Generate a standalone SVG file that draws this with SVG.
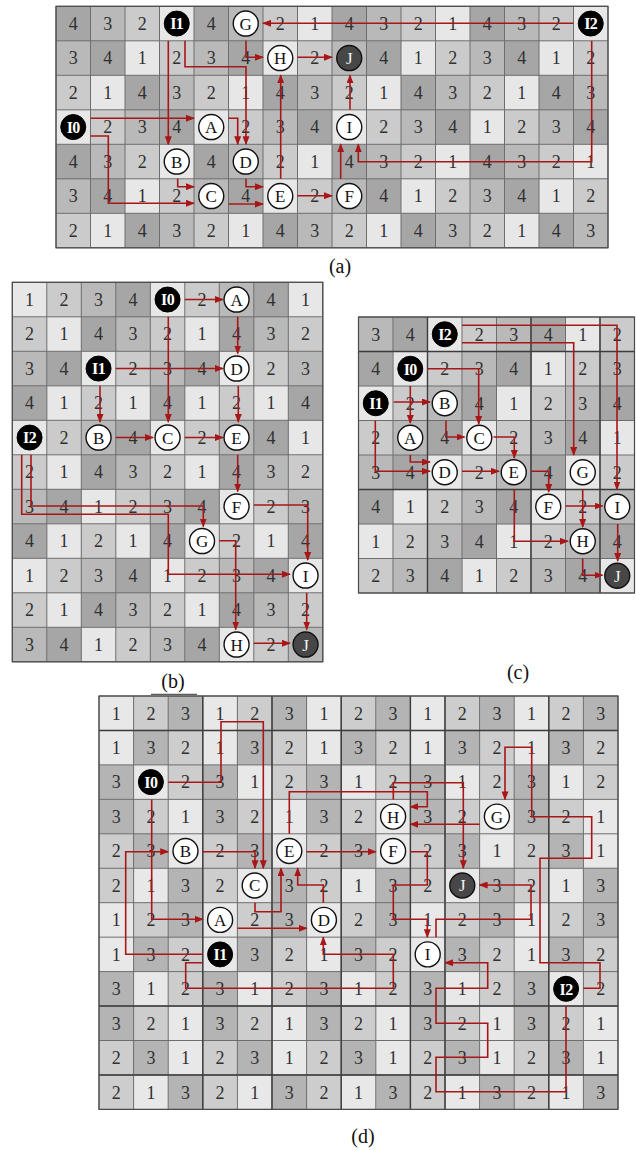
<svg xmlns="http://www.w3.org/2000/svg" width="636" height="1150" viewBox="0 0 636 1150">
<style>
.k1{fill:#e7e7e7}.k2{fill:#cbcbcb}.k3{fill:#b9b9b9}.k4{fill:#a6a6a6}
.m1{fill:#e8e8e8}.m2{fill:#cdcdcd}.m3{fill:#b4b4b4}
.gl{fill:none;stroke:#6e6e6e;stroke-width:1}
.bl{fill:none;stroke:#3c3c3c;stroke-width:1.4}
.bd{fill:none;stroke:#4a4a4a;stroke-width:1.2}
.num text{font-family:"Liberation Serif","DejaVu Serif",serif;font-size:18px;text-anchor:middle;fill:#303030}
.nd circle{fill:#fff;stroke:#111;stroke-width:1.4}
.nd text,.st text,.en text{font-family:"Liberation Serif","DejaVu Serif",serif;font-size:17px;text-anchor:middle;fill:#111}
.st circle{fill:#000;stroke:#000;stroke-width:1}
.st text{fill:#fff;font-weight:bold;font-size:16px;letter-spacing:-0.5px}
.en circle{fill:#474747;stroke:#111;stroke-width:1.4}
.en text{fill:#f2f2f2}
.ar{fill:none;stroke:#a81717;stroke-width:1.6}
.lab{font-family:"Liberation Serif","DejaVu Serif",serif;font-size:20px;text-anchor:middle;fill:#111}
</style>
<defs>
<marker id="ah" viewBox="0 0 9 7" refX="8" refY="3.5" markerWidth="9" markerHeight="7" markerUnits="userSpaceOnUse" orient="auto"><path d="M0,0 L9,3.5 L0,7 z" fill="#a81717"/></marker>
<pattern id="pa" patternUnits="userSpaceOnUse" width="138" height="138">
<rect class="k4" x="0" y="0" width="35" height="35"/><rect class="k3" x="34.5" y="0" width="35" height="35"/><rect class="k2" x="69" y="0" width="35" height="35"/><rect class="k1" x="103.5" y="0" width="35" height="35"/>
<rect class="k3" x="0" y="34.5" width="35" height="35"/><rect class="k4" x="34.5" y="34.5" width="35" height="35"/><rect class="k1" x="69" y="34.5" width="35" height="35"/><rect class="k2" x="103.5" y="34.5" width="35" height="35"/>
<rect class="k2" x="0" y="69" width="35" height="35"/><rect class="k1" x="34.5" y="69" width="35" height="35"/><rect class="k4" x="69" y="69" width="35" height="35"/><rect class="k3" x="103.5" y="69" width="35" height="35"/>
<rect class="k1" x="0" y="103.5" width="35" height="35"/><rect class="k2" x="34.5" y="103.5" width="35" height="35"/><rect class="k3" x="69" y="103.5" width="35" height="35"/><rect class="k4" x="103.5" y="103.5" width="35" height="35"/>
</pattern>
<pattern id="pb" patternUnits="userSpaceOnUse" width="138" height="138">
<rect class="k1" x="0" y="0" width="35" height="35"/><rect class="k2" x="34.5" y="0" width="35" height="35"/><rect class="k3" x="69" y="0" width="35" height="35"/><rect class="k4" x="103.5" y="0" width="35" height="35"/>
<rect class="k2" x="0" y="34.5" width="35" height="35"/><rect class="k1" x="34.5" y="34.5" width="35" height="35"/><rect class="k4" x="69" y="34.5" width="35" height="35"/><rect class="k3" x="103.5" y="34.5" width="35" height="35"/>
<rect class="k3" x="0" y="69" width="35" height="35"/><rect class="k4" x="34.5" y="69" width="35" height="35"/><rect class="k1" x="69" y="69" width="35" height="35"/><rect class="k2" x="103.5" y="69" width="35" height="35"/>
<rect class="k4" x="0" y="103.5" width="35" height="35"/><rect class="k1" x="34.5" y="103.5" width="35" height="35"/><rect class="k2" x="69" y="103.5" width="35" height="35"/><rect class="k1" x="103.5" y="103.5" width="35" height="35"/>
</pattern>
<pattern id="pc" patternUnits="userSpaceOnUse" width="138" height="138">
<rect class="k3" x="0" y="0" width="35" height="35"/><rect class="k4" x="34.5" y="0" width="35" height="35"/><rect class="k1" x="69" y="0" width="35" height="35"/><rect class="k2" x="103.5" y="0" width="35" height="35"/>
<rect class="k4" x="0" y="34.5" width="35" height="35"/><rect class="k1" x="34.5" y="34.5" width="35" height="35"/><rect class="k2" x="69" y="34.5" width="35" height="35"/><rect class="k3" x="103.5" y="34.5" width="35" height="35"/>
<rect class="k1" x="0" y="69" width="35" height="35"/><rect class="k2" x="34.5" y="69" width="35" height="35"/><rect class="k3" x="69" y="69" width="35" height="35"/><rect class="k4" x="103.5" y="69" width="35" height="35"/>
<rect class="k2" x="0" y="103.5" width="35" height="35"/><rect class="k3" x="34.5" y="103.5" width="35" height="35"/><rect class="k4" x="69" y="103.5" width="35" height="35"/><rect class="k1" x="103.5" y="103.5" width="35" height="35"/>
</pattern>
<pattern id="pd" patternUnits="userSpaceOnUse" width="103.8" height="206.7">
<rect class="m1" x="0" y="0" width="35" height="35"/><rect class="m2" x="34.6" y="0" width="35" height="35"/><rect class="m3" x="69.2" y="0" width="35" height="35"/>
<rect class="m1" x="0" y="34.45" width="35" height="35"/><rect class="m3" x="34.6" y="34.45" width="35" height="35"/><rect class="m2" x="69.2" y="34.45" width="35" height="35"/>
<rect class="m3" x="0" y="68.9" width="35" height="35"/><rect class="m1" x="34.6" y="68.9" width="35" height="35"/><rect class="m2" x="69.2" y="68.9" width="35" height="35"/>
<rect class="m3" x="0" y="103.35" width="35" height="35"/><rect class="m2" x="34.6" y="103.35" width="35" height="35"/><rect class="m1" x="69.2" y="103.35" width="35" height="35"/>
<rect class="m2" x="0" y="137.8" width="35" height="35"/><rect class="m3" x="34.6" y="137.8" width="35" height="35"/><rect class="m1" x="69.2" y="137.8" width="35" height="35"/>
<rect class="m2" x="0" y="172.25" width="35" height="35"/><rect class="m1" x="34.6" y="172.25" width="35" height="35"/><rect class="m3" x="69.2" y="172.25" width="35" height="35"/>
</pattern>
</defs>
<rect width="636" height="1150" fill="#fff"/>

<g id="grid-a" transform="translate(56 6.3)">
<rect width="552" height="241.5" fill="url(#pa)"/>
<path class="gl" d="M0 0V241.5M34.5 0V241.5M69 0V241.5M103.5 0V241.5M138 0V241.5M172.5 0V241.5M207 0V241.5M241.5 0V241.5M276 0V241.5M310.5 0V241.5M345 0V241.5M379.5 0V241.5M414 0V241.5M448.5 0V241.5M483 0V241.5M517.5 0V241.5M552 0V241.5M0 0H552M0 34.5H552M0 69H552M0 103.5H552M0 138H552M0 172.5H552M0 207H552M0 241.5H552"/>
<rect class="bd" width="552" height="241.5"/>
<g class="num">
<text x="17.3" y="23.6">4</text><text x="51.8" y="23.6">3</text><text x="86.3" y="23.6">2</text><text x="155.3" y="23.6">4</text><text x="224.3" y="23.6">2</text><text x="258.8" y="23.6">1</text><text x="293.3" y="23.6">4</text><text x="327.8" y="23.6">3</text><text x="362.3" y="23.6">2</text><text x="396.8" y="23.6">1</text><text x="431.3" y="23.6">4</text><text x="465.8" y="23.6">3</text><text x="500.3" y="23.6">2</text>
<text x="17.3" y="58.1">3</text><text x="51.8" y="58.1">4</text><text x="86.3" y="58.1">1</text><text x="120.8" y="58.1">2</text><text x="155.3" y="58.1">3</text><text x="189.8" y="58.1">4</text><text x="258.8" y="58.1">2</text><text x="327.8" y="58.1">4</text><text x="362.3" y="58.1">1</text><text x="396.8" y="58.1">2</text><text x="431.3" y="58.1">3</text><text x="465.8" y="58.1">4</text><text x="500.3" y="58.1">1</text><text x="534.8" y="58.1">2</text>
<text x="17.3" y="92.6">2</text><text x="51.8" y="92.6">1</text><text x="86.3" y="92.6">4</text><text x="120.8" y="92.6">3</text><text x="155.3" y="92.6">2</text><text x="189.8" y="92.6">1</text><text x="224.3" y="92.6">4</text><text x="258.8" y="92.6">3</text><text x="293.3" y="92.6">2</text><text x="327.8" y="92.6">1</text><text x="362.3" y="92.6">4</text><text x="396.8" y="92.6">3</text><text x="431.3" y="92.6">2</text><text x="465.8" y="92.6">1</text><text x="500.3" y="92.6">4</text><text x="534.8" y="92.6">3</text>
<text x="51.8" y="127.1">2</text><text x="86.3" y="127.1">3</text><text x="120.8" y="127.1">4</text><text x="189.8" y="127.1">2</text><text x="224.3" y="127.1">3</text><text x="258.8" y="127.1">4</text><text x="327.8" y="127.1">2</text><text x="362.3" y="127.1">3</text><text x="396.8" y="127.1">4</text><text x="431.3" y="127.1">1</text><text x="465.8" y="127.1">2</text><text x="500.3" y="127.1">3</text><text x="534.8" y="127.1">4</text>
<text x="17.3" y="161.6">4</text><text x="51.8" y="161.6">3</text><text x="86.3" y="161.6">2</text><text x="155.3" y="161.6">4</text><text x="224.3" y="161.6">2</text><text x="258.8" y="161.6">1</text><text x="293.3" y="161.6">4</text><text x="327.8" y="161.6">3</text><text x="362.3" y="161.6">2</text><text x="396.8" y="161.6">1</text><text x="431.3" y="161.6">4</text><text x="465.8" y="161.6">3</text><text x="500.3" y="161.6">2</text><text x="534.8" y="161.6">1</text>
<text x="17.3" y="196.1">3</text><text x="51.8" y="196.1">4</text><text x="86.3" y="196.1">1</text><text x="120.8" y="196.1">2</text><text x="189.8" y="196.1">4</text><text x="258.8" y="196.1">2</text><text x="327.8" y="196.1">4</text><text x="362.3" y="196.1">1</text><text x="396.8" y="196.1">2</text><text x="431.3" y="196.1">3</text><text x="465.8" y="196.1">4</text><text x="500.3" y="196.1">1</text><text x="534.8" y="196.1">2</text>
<text x="17.3" y="230.6">2</text><text x="51.8" y="230.6">1</text><text x="86.3" y="230.6">4</text><text x="120.8" y="230.6">3</text><text x="155.3" y="230.6">2</text><text x="189.8" y="230.6">1</text><text x="224.3" y="230.6">4</text><text x="258.8" y="230.6">3</text><text x="293.3" y="230.6">2</text><text x="327.8" y="230.6">1</text><text x="362.3" y="230.6">4</text><text x="396.8" y="230.6">3</text><text x="431.3" y="230.6">2</text><text x="465.8" y="230.6">1</text><text x="500.3" y="230.6">4</text><text x="534.8" y="230.6">3</text>
</g>
</g>

<g id="grid-b" transform="translate(12.3 282.3)">
<rect width="310.5" height="379.5" fill="url(#pb)"/>
<path class="gl" d="M0 0V379.5M34.5 0V379.5M69 0V379.5M103.5 0V379.5M138 0V379.5M172.5 0V379.5M207 0V379.5M241.5 0V379.5M276 0V379.5M310.5 0V379.5M0 0H310.5M0 34.5H310.5M0 69H310.5M0 103.5H310.5M0 138H310.5M0 172.5H310.5M0 207H310.5M0 241.5H310.5M0 276H310.5M0 310.5H310.5M0 345H310.5M0 379.5H310.5"/>
<rect class="bd" width="310.5" height="379.5"/>
<g class="num">
<text x="17.3" y="23.6">1</text><text x="51.8" y="23.6">2</text><text x="86.3" y="23.6">3</text><text x="120.8" y="23.6">4</text><text x="189.8" y="23.6">2</text><text x="258.8" y="23.6">4</text><text x="293.3" y="23.6">1</text>
<text x="17.3" y="58.1">2</text><text x="51.8" y="58.1">1</text><text x="86.3" y="58.1">4</text><text x="120.8" y="58.1">3</text><text x="155.3" y="58.1">2</text><text x="189.8" y="58.1">1</text><text x="224.3" y="58.1">4</text><text x="258.8" y="58.1">3</text><text x="293.3" y="58.1">2</text>
<text x="17.3" y="92.6">3</text><text x="51.8" y="92.6">4</text><text x="120.8" y="92.6">2</text><text x="155.3" y="92.6">3</text><text x="189.8" y="92.6">4</text><text x="258.8" y="92.6">2</text><text x="293.3" y="92.6">3</text>
<text x="17.3" y="127.1">4</text><text x="51.8" y="127.1">1</text><text x="86.3" y="127.1">2</text><text x="120.8" y="127.1">1</text><text x="155.3" y="127.1">4</text><text x="189.8" y="127.1">1</text><text x="224.3" y="127.1">2</text><text x="258.8" y="127.1">1</text><text x="293.3" y="127.1">4</text>
<text x="51.8" y="161.6">2</text><text x="120.8" y="161.6">4</text><text x="189.8" y="161.6">2</text><text x="258.8" y="161.6">4</text><text x="293.3" y="161.6">1</text>
<text x="17.3" y="196.1">2</text><text x="51.8" y="196.1">1</text><text x="86.3" y="196.1">4</text><text x="120.8" y="196.1">3</text><text x="155.3" y="196.1">2</text><text x="189.8" y="196.1">1</text><text x="224.3" y="196.1">4</text><text x="258.8" y="196.1">3</text><text x="293.3" y="196.1">2</text>
<text x="17.3" y="230.6">3</text><text x="51.8" y="230.6">4</text><text x="86.3" y="230.6">1</text><text x="120.8" y="230.6">2</text><text x="155.3" y="230.6">3</text><text x="189.8" y="230.6">4</text><text x="258.8" y="230.6">2</text><text x="293.3" y="230.6">3</text>
<text x="17.3" y="265.1">4</text><text x="51.8" y="265.1">1</text><text x="86.3" y="265.1">2</text><text x="120.8" y="265.1">1</text><text x="155.3" y="265.1">4</text><text x="224.3" y="265.1">2</text><text x="258.8" y="265.1">1</text><text x="293.3" y="265.1">4</text>
<text x="17.3" y="299.6">1</text><text x="51.8" y="299.6">2</text><text x="86.3" y="299.6">3</text><text x="120.8" y="299.6">4</text><text x="155.3" y="299.6">1</text><text x="189.8" y="299.6">2</text><text x="224.3" y="299.6">3</text><text x="258.8" y="299.6">4</text>
<text x="17.3" y="334.1">2</text><text x="51.8" y="334.1">1</text><text x="86.3" y="334.1">4</text><text x="120.8" y="334.1">3</text><text x="155.3" y="334.1">2</text><text x="189.8" y="334.1">1</text><text x="224.3" y="334.1">4</text><text x="258.8" y="334.1">3</text><text x="293.3" y="334.1">2</text>
<text x="17.3" y="368.6">3</text><text x="51.8" y="368.6">4</text><text x="86.3" y="368.6">1</text><text x="120.8" y="368.6">2</text><text x="155.3" y="368.6">3</text><text x="189.8" y="368.6">4</text><text x="258.8" y="368.6">2</text>
</g>
</g>

<g id="grid-c" transform="translate(358.5 317)">
<rect width="276" height="276" fill="url(#pc)"/>
<path class="gl" d="M0 0V276M34.5 0V276M69 0V276M103.5 0V276M138 0V276M172.5 0V276M207 0V276M241.5 0V276M276 0V276M0 0H276M0 34.5H276M0 69H276M0 103.5H276M0 138H276M0 172.5H276M0 207H276M0 241.5H276M0 276H276"/>
<path class="bl" d="M69 0V276M172.5 0V276M241.5 0V276M0 34.5H276M0 172.5H276"/>
<rect class="bd" width="276" height="276"/>
<g class="num">
<text x="17.3" y="23.6">3</text><text x="51.8" y="23.6">4</text><text x="120.8" y="23.6">2</text><text x="155.3" y="23.6">3</text><text x="189.8" y="23.6">4</text><text x="224.3" y="23.6">1</text><text x="258.8" y="23.6">2</text>
<text x="17.3" y="58.1">4</text><text x="86.3" y="58.1">2</text><text x="120.8" y="58.1">3</text><text x="155.3" y="58.1">4</text><text x="189.8" y="58.1">1</text><text x="224.3" y="58.1">2</text><text x="258.8" y="58.1">3</text>
<text x="51.8" y="92.6">2</text><text x="120.8" y="92.6">4</text><text x="155.3" y="92.6">1</text><text x="189.8" y="92.6">2</text><text x="224.3" y="92.6">3</text><text x="258.8" y="92.6">4</text>
<text x="17.3" y="127.1">2</text><text x="86.3" y="127.1">4</text><text x="155.3" y="127.1">2</text><text x="189.8" y="127.1">3</text><text x="224.3" y="127.1">4</text><text x="258.8" y="127.1">1</text>
<text x="17.3" y="161.6">3</text><text x="51.8" y="161.6">4</text><text x="120.8" y="161.6">2</text><text x="189.8" y="161.6">4</text><text x="258.8" y="161.6">2</text>
<text x="17.3" y="196.1">4</text><text x="51.8" y="196.1">1</text><text x="86.3" y="196.1">2</text><text x="120.8" y="196.1">3</text><text x="155.3" y="196.1">4</text><text x="224.3" y="196.1">2</text>
<text x="17.3" y="230.6">1</text><text x="51.8" y="230.6">2</text><text x="86.3" y="230.6">3</text><text x="120.8" y="230.6">4</text><text x="155.3" y="230.6">1</text><text x="189.8" y="230.6">2</text><text x="258.8" y="230.6">4</text>
<text x="17.3" y="265.1">2</text><text x="51.8" y="265.1">3</text><text x="86.3" y="265.1">4</text><text x="120.8" y="265.1">1</text><text x="155.3" y="265.1">2</text><text x="189.8" y="265.1">3</text><text x="224.3" y="265.1">4</text>
</g>
</g>

<g id="grid-d" transform="translate(99 696)">
<rect width="519" height="413.4" fill="url(#pd)"/>
<path class="gl" d="M0 0V413.4M34.6 0V413.4M69.2 0V413.4M103.8 0V413.4M138.4 0V413.4M173 0V413.4M207.6 0V413.4M242.2 0V413.4M276.8 0V413.4M311.4 0V413.4M346 0V413.4M380.6 0V413.4M415.2 0V413.4M449.8 0V413.4M484.4 0V413.4M519 0V413.4M0 0H519M0 34.45H519M0 68.9H519M0 103.35H519M0 137.8H519M0 172.25H519M0 206.7H519M0 241.15H519M0 275.6H519M0 310.05H519M0 344.5H519M0 378.95H519M0 413.4H519"/>
<path class="bl" d="M103.8 0V413.4M173 0V413.4M242.2 0V413.4M311.4 0V413.4M346 0V413.4M449.8 0V413.4M0 34.45H519M0 310.05H519M0 378.95H519"/>
<rect class="bd" width="519" height="413.4"/>
<g class="num">
<text x="17.3" y="23.5">1</text><text x="51.9" y="23.5">2</text><text x="86.5" y="23.5">3</text><text x="121.1" y="23.5">1</text><text x="155.7" y="23.5">2</text><text x="190.3" y="23.5">3</text><text x="224.9" y="23.5">1</text><text x="259.5" y="23.5">2</text><text x="294.1" y="23.5">3</text><text x="328.7" y="23.5">1</text><text x="363.3" y="23.5">2</text><text x="397.9" y="23.5">3</text><text x="432.5" y="23.5">1</text><text x="467.1" y="23.5">2</text><text x="501.7" y="23.5">3</text>
<text x="17.3" y="58">1</text><text x="51.9" y="58">3</text><text x="86.5" y="58">2</text><text x="121.1" y="58">1</text><text x="155.7" y="58">3</text><text x="190.3" y="58">2</text><text x="224.9" y="58">1</text><text x="259.5" y="58">3</text><text x="294.1" y="58">2</text><text x="328.7" y="58">1</text><text x="363.3" y="58">3</text><text x="397.9" y="58">2</text><text x="432.5" y="58">1</text><text x="467.1" y="58">3</text><text x="501.7" y="58">2</text>
<text x="17.3" y="92.4">3</text><text x="86.5" y="92.4">2</text><text x="121.1" y="92.4">3</text><text x="155.7" y="92.4">1</text><text x="190.3" y="92.4">2</text><text x="224.9" y="92.4">3</text><text x="259.5" y="92.4">1</text><text x="294.1" y="92.4">2</text><text x="328.7" y="92.4">3</text><text x="363.3" y="92.4">1</text><text x="397.9" y="92.4">2</text><text x="432.5" y="92.4">3</text><text x="467.1" y="92.4">1</text><text x="501.7" y="92.4">2</text>
<text x="17.3" y="126.9">3</text><text x="51.9" y="126.9">2</text><text x="86.5" y="126.9">1</text><text x="121.1" y="126.9">3</text><text x="155.7" y="126.9">2</text><text x="190.3" y="126.9">1</text><text x="224.9" y="126.9">3</text><text x="259.5" y="126.9">2</text><text x="328.7" y="126.9">3</text><text x="363.3" y="126.9">2</text><text x="432.5" y="126.9">3</text><text x="467.1" y="126.9">2</text><text x="501.7" y="126.9">1</text>
<text x="17.3" y="161.3">2</text><text x="51.9" y="161.3">3</text><text x="121.1" y="161.3">2</text><text x="155.7" y="161.3">3</text><text x="224.9" y="161.3">2</text><text x="259.5" y="161.3">3</text><text x="328.7" y="161.3">2</text><text x="363.3" y="161.3">3</text><text x="397.9" y="161.3">1</text><text x="432.5" y="161.3">2</text><text x="467.1" y="161.3">3</text><text x="501.7" y="161.3">1</text>
<text x="17.3" y="195.8">2</text><text x="51.9" y="195.8">1</text><text x="86.5" y="195.8">3</text><text x="121.1" y="195.8">2</text><text x="190.3" y="195.8">3</text><text x="224.9" y="195.8">2</text><text x="259.5" y="195.8">1</text><text x="294.1" y="195.8">3</text><text x="328.7" y="195.8">2</text><text x="397.9" y="195.8">3</text><text x="432.5" y="195.8">2</text><text x="467.1" y="195.8">1</text><text x="501.7" y="195.8">3</text>
<text x="17.3" y="230.2">1</text><text x="51.9" y="230.2">2</text><text x="86.5" y="230.2">3</text><text x="155.7" y="230.2">2</text><text x="190.3" y="230.2">3</text><text x="259.5" y="230.2">2</text><text x="294.1" y="230.2">3</text><text x="328.7" y="230.2">1</text><text x="363.3" y="230.2">2</text><text x="397.9" y="230.2">3</text><text x="432.5" y="230.2">1</text><text x="467.1" y="230.2">2</text><text x="501.7" y="230.2">3</text>
<text x="17.3" y="264.7">1</text><text x="51.9" y="264.7">3</text><text x="86.5" y="264.7">2</text><text x="155.7" y="264.7">3</text><text x="190.3" y="264.7">2</text><text x="224.9" y="264.7">1</text><text x="259.5" y="264.7">3</text><text x="294.1" y="264.7">2</text><text x="363.3" y="264.7">3</text><text x="397.9" y="264.7">2</text><text x="432.5" y="264.7">1</text><text x="467.1" y="264.7">3</text><text x="501.7" y="264.7">2</text>
<text x="17.3" y="299.1">3</text><text x="51.9" y="299.1">1</text><text x="86.5" y="299.1">2</text><text x="121.1" y="299.1">3</text><text x="155.7" y="299.1">1</text><text x="190.3" y="299.1">2</text><text x="224.9" y="299.1">3</text><text x="259.5" y="299.1">1</text><text x="294.1" y="299.1">2</text><text x="328.7" y="299.1">3</text><text x="363.3" y="299.1">1</text><text x="397.9" y="299.1">2</text><text x="432.5" y="299.1">3</text><text x="501.7" y="299.1">2</text>
<text x="17.3" y="333.6">3</text><text x="51.9" y="333.6">2</text><text x="86.5" y="333.6">1</text><text x="121.1" y="333.6">3</text><text x="155.7" y="333.6">2</text><text x="190.3" y="333.6">1</text><text x="224.9" y="333.6">3</text><text x="259.5" y="333.6">2</text><text x="294.1" y="333.6">1</text><text x="328.7" y="333.6">3</text><text x="363.3" y="333.6">2</text><text x="397.9" y="333.6">1</text><text x="432.5" y="333.6">3</text><text x="467.1" y="333.6">2</text><text x="501.7" y="333.6">1</text>
<text x="17.3" y="368">2</text><text x="51.9" y="368">3</text><text x="86.5" y="368">1</text><text x="121.1" y="368">2</text><text x="155.7" y="368">3</text><text x="190.3" y="368">1</text><text x="224.9" y="368">2</text><text x="259.5" y="368">3</text><text x="294.1" y="368">1</text><text x="328.7" y="368">2</text><text x="363.3" y="368">3</text><text x="397.9" y="368">1</text><text x="432.5" y="368">2</text><text x="467.1" y="368">3</text><text x="501.7" y="368">1</text>
<text x="17.3" y="402.5">2</text><text x="51.9" y="402.5">1</text><text x="86.5" y="402.5">3</text><text x="121.1" y="402.5">2</text><text x="155.7" y="402.5">1</text><text x="190.3" y="402.5">3</text><text x="224.9" y="402.5">2</text><text x="259.5" y="402.5">1</text><text x="294.1" y="402.5">3</text><text x="328.7" y="402.5">2</text><text x="363.3" y="402.5">1</text><text x="397.9" y="402.5">3</text><text x="432.5" y="402.5">2</text><text x="467.1" y="402.5">1</text><text x="501.7" y="402.5">3</text>
</g>
</g>

<g id="connectors" marker-end="url(#ah)">
<path class="ar" marker-end="url(#ah)" d="M90.5 118.3H194"/>
<path class="ar" marker-end="url(#ah)" d="M90.5 136H108.3V203.3H194"/>
<path class="ar" marker-end="url(#ah)" d="M168.3 40.8V144.3"/>
<path class="ar" marker-end="url(#ah)" d="M185 40.8V66.7H246V144.3"/>
<path class="ar" marker-end="url(#ah)" d="M228.5 118.3H237.7V144.3"/>
<path class="ar" marker-end="url(#ah)" d="M177.7 178.8V186.7H194"/>
<path class="ar" marker-end="url(#ah)" d="M228.5 204H263"/>
<path class="ar" marker-end="url(#ah)" d="M246 178.8V186.7H263"/>
<path class="ar" marker-end="url(#ah)" d="M246 40.8V57.3H263"/>
<path class="ar" marker-end="url(#ah)" d="M297.5 57.3H332"/>
<path class="ar" marker-end="url(#ah)" d="M280.7 178.8V75.3"/>
<path class="ar" marker-end="url(#ah)" d="M297.5 195.7H332"/>
<path class="ar" marker-end="url(#ah)" d="M340.7 178.8V144.3"/>
<path class="ar" marker-end="url(#ah)" d="M350 109.8V75.3"/>
<path class="ar" marker-end="url(#ah)" d="M573.5 23.3H263"/>
<path class="ar" marker-end="url(#ah)" d="M591.7 40.8V161.7H358.3V144.3"/>

<path class="ar" marker-end="url(#ah)" d="M184.8 299.5H223"/>
<path class="ar" marker-end="url(#ah)" d="M168.3 316.8V422"/>
<path class="ar" marker-end="url(#ah)" d="M115.8 368.5H223"/>
<path class="ar" marker-end="url(#ah)" d="M100 385.8V422"/>
<path class="ar" marker-end="url(#ah)" d="M237.7 316.8V353.5"/>
<path class="ar" marker-end="url(#ah)" d="M115.8 437.5H153"/>
<path class="ar" marker-end="url(#ah)" d="M184.8 437.5H223"/>
<path class="ar" marker-end="url(#ah)" d="M238.3 385.8V422"/>
<path class="ar" marker-end="url(#ah)" d="M237.7 454.8V491.5"/>
<path class="ar" marker-end="url(#ah)" d="M253.8 505H307.7V560"/>
<path class="ar" marker-end="url(#ah)" d="M306.7 592.8V629.5"/>
<path class="ar" marker-end="url(#ah)" d="M253.8 643.3H290"/>
<path class="ar" marker-end="url(#ah)" d="M219.3 540.7H235.7V629.5"/>
<path class="ar" marker-end="url(#ah)" d="M31 454.8V506H203.3V526.5"/>
<path class="ar" marker-end="url(#ah)" d="M21.7 454.8V514.3H168.3V574.3H290"/>

<path class="ar" marker-end="url(#ah)" d="M462 325.3H617V489.5"/>
<path class="ar" marker-end="url(#ah)" d="M462 342.7H573.7V455"/>
<path class="ar" marker-end="url(#ah)" d="M427.5 368.7H478.7V424"/>
<path class="ar" marker-end="url(#ah)" d="M410.3 386V423"/>
<path class="ar" marker-end="url(#ah)" d="M393.7 402H430"/>
<path class="ar" marker-end="url(#ah)" d="M375.3 420.5V471.3H430"/>
<path class="ar" marker-end="url(#ah)" d="M410.3 455V462H430"/>
<path class="ar" marker-end="url(#ah)" d="M446 420.5V437H464.5"/>
<path class="ar" marker-end="url(#ah)" d="M493.5 437H514.3V458"/>
<path class="ar" marker-end="url(#ah)" d="M462 471.3H499"/>
<path class="ar" marker-end="url(#ah)" d="M531 471.3H548.7V492"/>
<path class="ar" marker-end="url(#ah)" d="M514.3 489.5V541.3H568"/>
<path class="ar" marker-end="url(#ah)" d="M582.7 489.5V527"/>
<path class="ar" marker-end="url(#ah)" d="M565.5 506H602.5"/>
<path class="ar" marker-end="url(#ah)" d="M617.7 524V561"/>
<path class="ar" marker-end="url(#ah)" d="M582.7 558.5V575.3H602.5"/>

<path class="ar" marker-end="url(#ah)" d="M168.2 782.3H221V721.7H263.3V868.2"/>
<path class="ar" marker-end="url(#ah)" d="M151.7 799.4V919.3H202.8"/>
<path class="ar" marker-end="url(#ah)" d="M202.8 851.7H255V868.2"/>
<path class="ar" marker-end="url(#ah)" d="M202.8 954.3H125.7V851.7H168.2"/>
<path class="ar" marker-end="url(#ah)" d="M202.8 962.7H185.7V988.3H393.3V954.3H323.3V937.2"/>
<path class="ar" marker-end="url(#ah)" d="M306.6 851.7H375.8"/>
<path class="ar" marker-end="url(#ah)" d="M289.3 833.8V791.7H427.3V806.7H410.4"/>
<path class="ar" marker-end="url(#ah)" d="M393.3 799.4V782.7H463.3V868.2"/>
<path class="ar" marker-end="url(#ah)" d="M479.6 824.3H410.4"/>
<path class="ar" marker-end="url(#ah)" d="M410.4 851.7H427.3V885H393.3V919.3H427.3V937.2"/>
<path class="ar" marker-end="url(#ah)" d="M436 937.2V919.3H531V885H479.6"/>
<path class="ar" marker-end="url(#ah)" d="M255 902.7V911.7H281V868.2"/>
<path class="ar" marker-end="url(#ah)" d="M323.3 902.7V885H297.7V868.2"/>
<path class="ar" marker-end="url(#ah)" d="M237.4 928.3H306.6"/>
<path class="ar" marker-end="url(#ah)" d="M583.4 988.3H600V962.7H540V858.3H591.7V816.7H531.7V747.3H505V799.4"/>
<path class="ar" marker-end="url(#ah)" d="M566 1006V1091.7H436V1057.3H487.7V1023.3H436V988.3H487.7V962.7H445"/>
</g>

<g id="a-I1" class="st"><circle cx="176.75" cy="23.55" r="12.5"/><text x="176.75" y="29.3">I1</text></g>
<g id="a-G" class="nd"><circle cx="245.75" cy="23.55" r="12.5"/><text x="245.75" y="29.5">G</text></g>
<g id="a-I2" class="st"><circle cx="590.75" cy="23.55" r="12.5"/><text x="590.75" y="29.3">I2</text></g>
<g id="a-H" class="nd"><circle cx="280.25" cy="58.05" r="12.5"/><text x="280.25" y="64">H</text></g>
<g id="a-J" class="en"><circle cx="349.25" cy="58.05" r="12.5"/><text x="349.25" y="64">J</text></g>
<g id="a-I0" class="st"><circle cx="73.25" cy="127.05" r="12.5"/><text x="73.25" y="132.8">I0</text></g>
<g id="a-A" class="nd"><circle cx="211.25" cy="127.05" r="12.5"/><text x="211.25" y="133">A</text></g>
<g id="a-I" class="nd"><circle cx="349.25" cy="127.05" r="12.5"/><text x="349.25" y="133">I</text></g>
<g id="a-B" class="nd"><circle cx="176.75" cy="161.55" r="12.5"/><text x="176.75" y="167.5">B</text></g>
<g id="a-D" class="nd"><circle cx="245.75" cy="161.55" r="12.5"/><text x="245.75" y="167.5">D</text></g>
<g id="a-C" class="nd"><circle cx="211.25" cy="196.05" r="12.5"/><text x="211.25" y="202">C</text></g>
<g id="a-E" class="nd"><circle cx="280.25" cy="196.05" r="12.5"/><text x="280.25" y="202">E</text></g>
<g id="a-F" class="nd"><circle cx="349.25" cy="196.05" r="12.5"/><text x="349.25" y="202">F</text></g>

<g id="b-I0" class="st"><circle cx="167.55" cy="299.55" r="12.5"/><text x="167.55" y="305.3">I0</text></g>
<g id="b-A" class="nd"><circle cx="236.55" cy="299.55" r="12.5"/><text x="236.55" y="305.5">A</text></g>
<g id="b-I1" class="st"><circle cx="98.55" cy="368.55" r="12.5"/><text x="98.55" y="374.3">I1</text></g>
<g id="b-D" class="nd"><circle cx="236.55" cy="368.55" r="12.5"/><text x="236.55" y="374.5">D</text></g>
<g id="b-I2" class="st"><circle cx="29.55" cy="437.55" r="12.5"/><text x="29.55" y="443.3">I2</text></g>
<g id="b-B" class="nd"><circle cx="98.55" cy="437.55" r="12.5"/><text x="98.55" y="443.5">B</text></g>
<g id="b-C" class="nd"><circle cx="167.55" cy="437.55" r="12.5"/><text x="167.55" y="443.5">C</text></g>
<g id="b-E" class="nd"><circle cx="236.55" cy="437.55" r="12.5"/><text x="236.55" y="443.5">E</text></g>
<g id="b-F" class="nd"><circle cx="236.55" cy="506.55" r="12.5"/><text x="236.55" y="512.5">F</text></g>
<g id="b-G" class="nd"><circle cx="202.05" cy="541.05" r="12.5"/><text x="202.05" y="547">G</text></g>
<g id="b-I" class="nd"><circle cx="305.55" cy="575.55" r="12.5"/><text x="305.55" y="581.5">I</text></g>
<g id="b-H" class="nd"><circle cx="236.55" cy="644.55" r="12.5"/><text x="236.55" y="650.5">H</text></g>
<g id="b-J" class="en"><circle cx="305.55" cy="644.55" r="12.5"/><text x="305.55" y="650.5">J</text></g>

<g id="c-I2" class="st"><circle cx="444.75" cy="334.25" r="12.5"/><text x="444.75" y="340">I2</text></g>
<g id="c-I0" class="st"><circle cx="410.25" cy="368.75" r="12.5"/><text x="410.25" y="374.5">I0</text></g>
<g id="c-I1" class="st"><circle cx="375.75" cy="403.25" r="12.5"/><text x="375.75" y="409">I1</text></g>
<g id="c-B" class="nd"><circle cx="444.75" cy="403.25" r="12.5"/><text x="444.75" y="409.2">B</text></g>
<g id="c-A" class="nd"><circle cx="410.25" cy="437.75" r="12.5"/><text x="410.25" y="443.7">A</text></g>
<g id="c-C" class="nd"><circle cx="479.25" cy="437.75" r="12.5"/><text x="479.25" y="443.7">C</text></g>
<g id="c-D" class="nd"><circle cx="444.75" cy="472.25" r="12.5"/><text x="444.75" y="478.2">D</text></g>
<g id="c-E" class="nd"><circle cx="513.75" cy="472.25" r="12.5"/><text x="513.75" y="478.2">E</text></g>
<g id="c-G" class="nd"><circle cx="582.75" cy="472.25" r="12.5"/><text x="582.75" y="478.2">G</text></g>
<g id="c-F" class="nd"><circle cx="548.25" cy="506.75" r="12.5"/><text x="548.25" y="512.7">F</text></g>
<g id="c-I" class="nd"><circle cx="617.25" cy="506.75" r="12.5"/><text x="617.25" y="512.7">I</text></g>
<g id="c-H" class="nd"><circle cx="582.75" cy="541.25" r="12.5"/><text x="582.75" y="547.2">H</text></g>
<g id="c-J" class="en"><circle cx="617.25" cy="575.75" r="12.5"/><text x="617.25" y="581.7">J</text></g>

<g id="d-I0" class="st"><circle cx="150.9" cy="782.1" r="12.5"/><text x="150.9" y="787.9">I0</text></g>
<g id="d-H" class="nd"><circle cx="393.1" cy="816.6" r="12.5"/><text x="393.1" y="822.5">H</text></g>
<g id="d-G" class="nd"><circle cx="496.9" cy="816.6" r="12.5"/><text x="496.9" y="822.5">G</text></g>
<g id="d-B" class="nd"><circle cx="185.5" cy="851" r="12.5"/><text x="185.5" y="857">B</text></g>
<g id="d-E" class="nd"><circle cx="289.3" cy="851" r="12.5"/><text x="289.3" y="857">E</text></g>
<g id="d-F" class="nd"><circle cx="393.1" cy="851" r="12.5"/><text x="393.1" y="857">F</text></g>
<g id="d-C" class="nd"><circle cx="254.7" cy="885.5" r="12.5"/><text x="254.7" y="891.4">C</text></g>
<g id="d-J" class="en"><circle cx="462.3" cy="885.5" r="12.5"/><text x="462.3" y="891.4">J</text></g>
<g id="d-A" class="nd"><circle cx="220.1" cy="919.9" r="12.5"/><text x="220.1" y="925.8">A</text></g>
<g id="d-D" class="nd"><circle cx="323.9" cy="919.9" r="12.5"/><text x="323.9" y="925.8">D</text></g>
<g id="d-I1" class="st"><circle cx="220.1" cy="954.4" r="12.5"/><text x="220.1" y="960.1">I1</text></g>
<g id="d-I" class="nd"><circle cx="427.7" cy="954.4" r="12.5"/><text x="427.7" y="960.3">I</text></g>
<g id="d-I2" class="st"><circle cx="566.1" cy="988.8" r="12.5"/><text x="566.1" y="994.5">I2</text></g>

<g id="labels">
<text class="lab" x="340" y="273">(a)</text>
<text class="lab" x="173" y="688">(b)</text>
<line x1="151" y1="694.3" x2="197" y2="694.3" stroke="#333" stroke-width="1"/>
<text class="lab" x="518" y="679">(c)</text>
<text class="lab" x="363" y="1143">(d)</text>
</g>
</svg>
